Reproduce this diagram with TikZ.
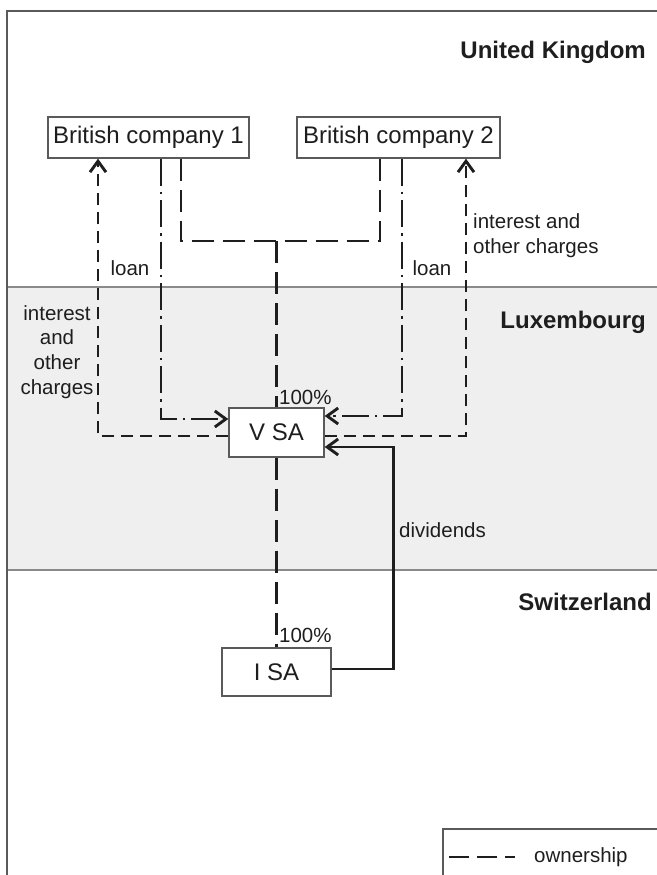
\documentclass[tikz,border=0pt]{standalone}
\usepackage{fontspec}
\setmainfont{Liberation Sans}
\usetikzlibrary{arrows.meta}
\definecolor{bandgray}{HTML}{EFEFEF}
\definecolor{rulegray}{HTML}{8A8A8A}
\definecolor{boxgray}{HTML}{5A5A5A}
\definecolor{ink}{HTML}{1E1E1E}
\tikzset{
  company/.style={draw=boxgray, line width=1.4pt, fill=white, inner sep=0pt,
    minimum height=41pt, text=ink, font=\fontsize{24}{28}\selectfont},
  own/.style={ink, line width=2.9pt, dash pattern=on 22pt off 9pt},
  loanline/.style={ink, line width=2.9pt, dash pattern=on 27pt off 6pt on 2.5pt off 6pt, -{Straight Barb[length=11pt,width=16pt]}},
  charge/.style={ink, line width=2.9pt, dash pattern=on 12pt off 7pt, -{Straight Barb[length=11pt,width=16pt]}},
  lbl/.style={text=ink, inner sep=0pt, font=\fontsize{20.5}{24.7}\selectfont},
  country/.style={text=ink, inner sep=0pt, anchor=east, font=\fontsize{24}{28}\selectfont\bfseries}
}
\begin{document}
\begin{tikzpicture}[x=1pt,y=-1pt]
  \useasboundingbox (0,0) rectangle (656,875);
  % countries
  \fill[bandgray] (7,287) rectangle (660,570);
  \draw[rulegray, line width=1.2pt] (7,287) -- (660,287);
  \draw[rulegray, line width=1.2pt] (7,570) -- (660,570);
  \draw[boxgray, line width=1.4pt] (7,880) -- (7,11) -- (660,11);
  \node[country] (uk) at (646,52) {United Kingdom};
  \node[country] (lux) at (646,322) {Luxembourg};
  \node[country] (ch) at (652,602) {Switzerland};

  % companies
  \node[company, minimum width=201pt] (bc1) at (148.5,137.5) {British company 1};
  \node[company, minimum width=203pt] (bc2) at (398.5,137.5) {British company 2};
  \node[company, minimum width=95pt, minimum height=49pt] (vsa) at (276.5,432.5) {V SA};
  \node[company, minimum width=109pt, minimum height=48pt] (isa) at (276.5,672) {I SA};

  % ownership
  \coordinate (tee) at (276.5,241);
  \draw[own] ([xshift=32.5pt]bc1.south) |- (tee) -| ([xshift=-18.5pt]bc2.south);
  \draw[own] (tee) -- (vsa.north);
  \draw[own] (vsa.south) -- (isa.north);
  \node[lbl, anchor=west] (own1) at (279,397) {100\%};
  \node[lbl, anchor=west] (own2) at (279,635) {100\%};

  % loans
  \draw[loanline] ([xshift=12.5pt]bc1.south) |- ([yshift=13.5pt]vsa.west);
  \draw[loanline] ([xshift=3.5pt]bc2.south) |- ([yshift=16.5pt]vsa.east);
  \node[lbl] (loan1) at (130,268) {loan};
  \node[lbl] (loan2) at (432,268) {loan};

  % interest and other charges
  \draw[charge] ([yshift=-3.5pt]vsa.west) -| ([xshift=-50.5pt]bc1.south);
  \draw[charge] ([yshift=-3.5pt]vsa.east) -| ([xshift=67.5pt]bc2.south);
  \node[lbl, align=center] (int1) at (57,352) {interest\\and\\other\\charges};
  \node[lbl, align=left, anchor=west] (int2) at (473,235.5) {interest and\\other charges};

  % dividends
  \draw[ink, line width=2.9pt, -{Straight Barb[length=11pt,width=16pt]}]
    ([yshift=3pt]isa.east) -- ++(62,0) |- ([yshift=-14.5pt]vsa.east);
  \node[lbl, anchor=west] (div) at (399,530) {dividends};

  % legend
  \draw[boxgray, line width=1.2pt] (443,880) -- (443,829) -- (660,829);
  \coordinate (leg) at (449,857);
  \draw[own, dash pattern=on 20pt off 8pt] (leg) -- ++(66,0) coordinate (legend);
  \node[lbl, anchor=west] (ownlbl) at ([xshift=19pt]legend) {ownership};
\end{tikzpicture}
\end{document}
